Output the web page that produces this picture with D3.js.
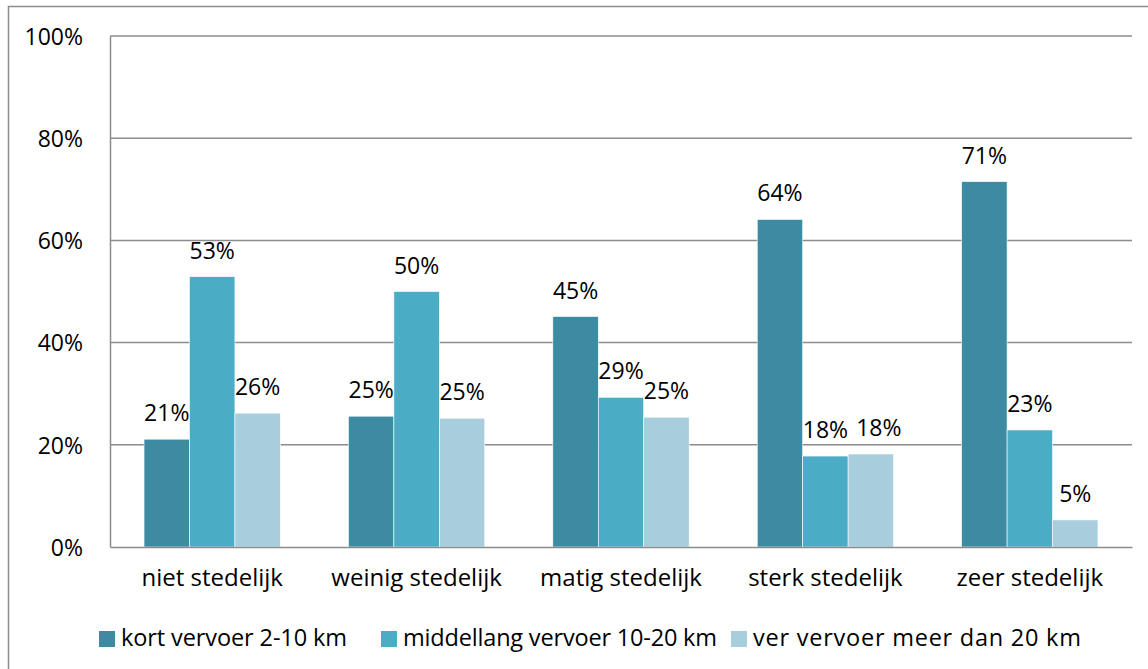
<!DOCTYPE html>
<html><head><meta charset="utf-8">
<script src="https://cdn.jsdelivr.net/npm/d3@7"></script>
<style>body{margin:0;background:#fff}svg{display:block}text{font-family:"Open Sans","Noto Sans",sans-serif;fill:#000}</style>
</head><body>
<svg id="c" width="1148" height="669"></svg>
<script>
const categories = ["niet stedelijk","weinig stedelijk","matig stedelijk","sterk stedelijk","zeer stedelijk"];
const seriesNames = ["kort vervoer 2-10 km","middellang vervoer 10-20 km","ver vervoer meer dan 20 km"];
const kort = [21.1, 25.6, 45.1, 64.1, 71.5];
const middellang = [52.9, 50.0, 29.3, 17.8, 22.9];
const ver = [26.2, 25.2, 25.4, 18.2, 5.3];
const labelsKort = ["21%","25%","45%","64%","71%"];
const labelsMiddel = ["53%","50%","29%","18%","23%"];
const labelsVer = ["26%","25%","25%","18%","5%"];
const yTicks = [0,20,40,60,80,100];
const colors = ["#3C8BA3","#4BACC6","#A8CEDD"];

const series = [kort, middellang, ver];
const labels = [labelsKort, labelsMiddel, labelsVer];
const svg = d3.select("#c");
const m = {l:110, r:1132, t:36, b:547};
const fs = "23px";

svg.append("rect").attr("x",8.5).attr("y",6.5).attr("width",1160).attr("height",700)
  .attr("fill","none").attr("stroke","#8c8c8c").attr("stroke-width",1.5);

const x = d3.scaleBand().domain(categories).range([m.l,m.r]).paddingInner(0.333).paddingOuter(0.1665);
const xs = d3.scaleBand().domain([0,1,2]).range([0, x.bandwidth()]);
const y = d3.scaleLinear().domain([0,100]).range([m.b,m.t]);

// gridlines
svg.append("g").selectAll("line").data(yTicks.filter(d=>d>0)).join("line")
  .attr("x1",m.l).attr("x2",m.r).attr("y1",d=>y(d)).attr("y2",d=>y(d))
  .attr("stroke","#8c8c8c").attr("stroke-width",1.5);

// bars
series.forEach((vals,si)=>{
  svg.append("g").selectAll("rect").data(vals).join("rect")
    .attr("x",(d,i)=>x(categories[i])+xs(si))
    .attr("y",d=>y(d)).attr("width",xs.bandwidth()).attr("height",d=>y(0)-y(d))
    .attr("fill",colors[si]).attr("stroke","#fff").attr("stroke-width",0.6);
  svg.append("g").selectAll("text").data(vals).join("text")
    .attr("x",(d,i)=>x(categories[i])+xs(si)+xs.bandwidth()/2 + (si===2 && labels[1][i]===labels[2][i] ? 8 : 0))
    .attr("y",d=>y(d)-18).attr("text-anchor","middle")
    .style("font-size",fs).text((d,i)=>labels[si][i]);
});

// axes
const yAxis = d3.axisLeft(y).tickValues(yTicks).tickFormat(d=>d+"%").tickSize(0).tickPadding(27);
const gy = svg.append("g").attr("transform",`translate(${m.l},0)`).call(yAxis);
gy.select(".domain").attr("stroke","#8c8c8c").attr("stroke-width",1.5);
gy.selectAll("text").style("font-size",fs).attr("dy","0.36em").attr("font-family",null);

const xAxis = d3.axisBottom(x).tickSize(0);
const gx = svg.append("g").attr("transform",`translate(0,${m.b})`).call(xAxis);
gx.select(".domain").attr("stroke","#8c8c8c").attr("stroke-width",1.5);
gx.selectAll("text").style("font-size","24px").attr("font-family",null).attr("y",39).attr("dy","0");

// legend
const legX = [99, 381, 731];
const legLen = [226, 314, 328];
const lg = svg.append("g");
seriesNames.forEach((n,i)=>{
  lg.append("rect").attr("x",legX[i]).attr("y",631).attr("width",16).attr("height",16).attr("fill",colors[i]);
  lg.append("text").attr("x",legX[i]+22).attr("y",646).style("font-size","23.5px")
    .attr("textLength",legLen[i]).attr("lengthAdjust","spacing").text(n);
});
</script>
</body></html>
